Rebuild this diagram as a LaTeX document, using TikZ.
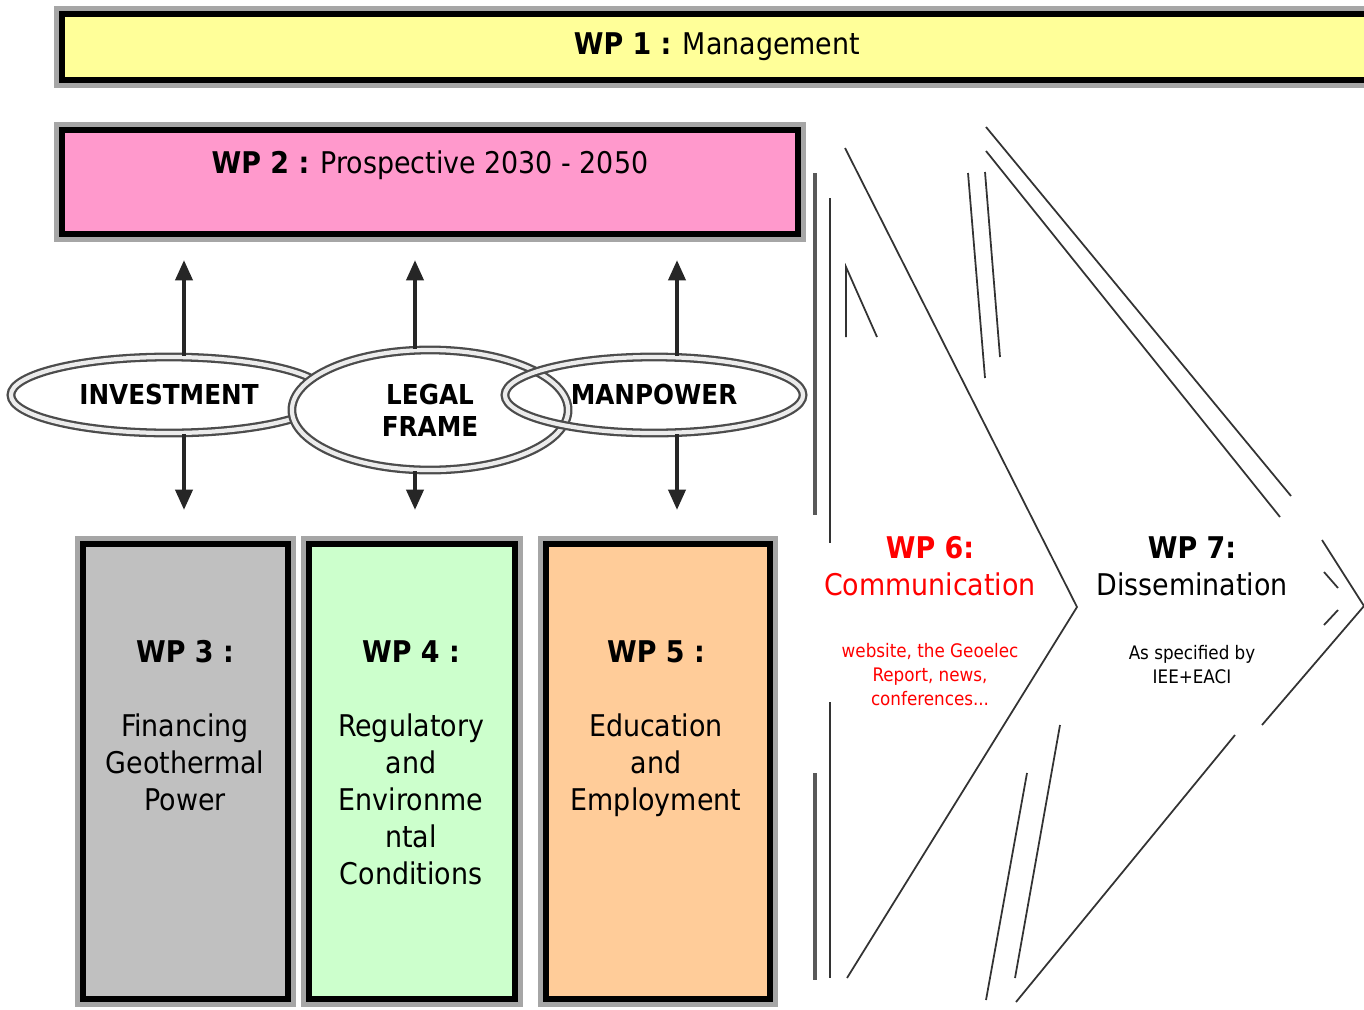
\documentclass[tikz,border=0pt]{standalone}
\usepackage{fontspec}
\setmainfont{DejaVu Sans Condensed}
\usepackage{xcolor}
\usetikzlibrary{shapes,arrows,arrows.meta,positioning}
\definecolor{wpyellow}{HTML}{FFFF99}
\definecolor{wppink}{HTML}{FF99CC}
\definecolor{wpgray}{HTML}{C0C0C0}
\definecolor{wpgreen}{HTML}{CCFFCC}
\definecolor{wporange}{HTML}{FFCC99}
\definecolor{wpred}{HTML}{FF0000}
\tikzstyle{wpbox} = [rectangle, draw=black, line width=1.7pt, preaction={draw=gray!70, line width=4.4pt}, inner sep=0pt]
\tikzstyle{topic} = [ellipse, draw=black!70, double=gray!15, double distance=1.2pt, line width=0.65pt, fill=white, inner sep=0pt, align=center, font=\bfseries\fontsize{7.8}{9}\selectfont]
\tikzstyle{wptext} = [align=center, inner sep=0pt, anchor=base, font=\fontsize{8.5}{10.5}\selectfont]
\tikzstyle{smalltext} = [align=center, inner sep=0pt, anchor=base, font=\fontsize{5.3}{6.8}\selectfont]
\tikzstyle{arrow} = [line width=1.2pt, draw=black!85, -{Triangle[width=4.8pt,length=5.8pt]}]
\tikzstyle{edge} = [draw=black!80, line width=0.5pt]

\begin{document}
\begin{tikzpicture}[x=0.01cm, y=-0.01cm]
    \useasboundingbox (0,0) rectangle (1364,1009);
    % Work packages
    \node [wpbox, fill=wpyellow, minimum width=13.1cm, minimum height=0.66cm, font=\fontsize{8.5}{10.5}\selectfont] (wp1) at (717,47) {\textbf{WP 1 :} Management};
    \node [wpbox, fill=wppink, minimum width=7.36cm, minimum height=1.04cm] (wp2) at (430,182) {};
    \node [wptext] (wp2text) at (430,173) {\textbf{WP 2 :} Prospective 2030 - 2050};
    \node [wpbox, fill=wpgray, minimum width=2.05cm, minimum height=4.55cm] (wp3) at (185.5,771.5) {};
    \node [wpbox, fill=wpgreen, minimum width=2.06cm, minimum height=4.55cm] (wp4) at (412,771.5) {};
    \node [wpbox, fill=wporange, minimum width=2.24cm, minimum height=4.55cm] (wp5) at (658,771.5) {};
    \node [wptext] (wp3text) at (185,810) {\textbf{WP 3 :}\\[10.5pt] Financing\\Geothermal\\Power};
    \node [wptext] (wp4text) at (411,884) {\textbf{WP 4 :}\\[10.5pt] Regulatory\\and\\Environme\\ntal\\Conditions};
    \node [wptext] (wp5text) at (656,810) {\textbf{WP 5 :}\\[10.5pt] Education\\and\\Employment};

    % Topics
    \node [topic, minimum width=3.16cm, minimum height=0.76cm] (invest) at (169,395) {INVESTMENT};
    \node [topic, minimum width=2.76cm, minimum height=1.2cm] (legal) at (430,410) {LEGAL\\FRAME};
    \node [topic, fill=none, minimum width=2.98cm, minimum height=0.76cm] (manpower) at (654,395) {MANPOWER};

    % Arrows
    \coordinate (up1) at (184,260);
    \coordinate (up2) at (415,260);
    \coordinate (up3) at (677,260);
    \coordinate (down1) at (184,510);
    \coordinate (down2) at (415,510);
    \coordinate (down3) at (677,510);
    \draw [arrow] (invest.north -| up1) -- (up1);
    \draw [arrow] (legal.north -| up2) -- (up2);
    \draw [arrow] (manpower.north -| up3) -- (up3);
    \draw [arrow] (invest.south -| down1) -- (down1);
    \draw [arrow] (legal.south -| down2) -- (down2);
    \draw [arrow] (manpower.south -| down3) -- (down3);

    % Chevrons
    \draw [edge, line width=0.9pt, draw=black!65] (815,173) -- (815,515);
    \draw [edge] (830,198) -- (830,543);
    \draw [edge, line width=0.9pt, draw=black!65] (815,773) -- (815,980);
    \draw [edge] (830,702) -- (830,978);
    \draw [edge] (846,337) -- (846,267) -- (877,337);
    \draw [edge] (845,148) -- (1077,607) -- (847,978);
    \draw [edge] (968,173) -- (985,378);
    \draw [edge] (985,172) -- (1000,357);
    \draw [edge] (986,127) -- (1291,496);
    \draw [edge] (986,151) -- (1280,517);
    \draw [edge] (1322,540) -- (1364,606) -- (1262,725);
    \draw [edge] (1324,572) -- (1338,588);
    \draw [edge] (1338,610) -- (1324,625);
    \draw [edge] (1235,735) -- (1016,1002);
    \draw [edge] (1027,773) -- (986,1000);
    \draw [edge] (1060,725) -- (1015,978);

    \node [wptext, text=wpred] (wp6text) at (930,595) {\textbf{WP 6:}\\Communication};
    \node [smalltext, text=wpred] (wp6note) at (930,705) {website, the Geoelec\\Report, news,\\conferences...};
    \node [wptext] (wp7text) at (1192,595) {\textbf{WP 7:}\\Dissemination};
    \node [smalltext] (wp7note) at (1192,683) {As specified by\\IEE+EACI};
\end{tikzpicture}
\end{document}
